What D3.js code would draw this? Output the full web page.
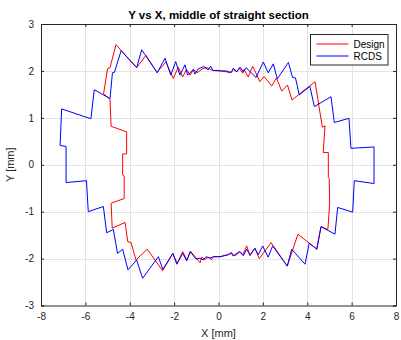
<!DOCTYPE html>
<html>
<head>
<meta charset="utf-8">
<script src="https://cdn.jsdelivr.net/npm/d3@7"></script>
<style>
  html, body { margin: 0; padding: 0; background: #fff; }
  svg { display: block; font-family: "Liberation Sans", Arial, Helvetica, sans-serif; }
</style>
</head>
<body>
<svg id="chart" width="401" height="340"></svg>
<script>
const title = "Y vs X, middle of straight section";
const xLabel = "X [mm]";
const yLabel = "Y [mm]";
const xTicks = [-8, -6, -4, -2, 0, 2, 4, 6, 8];
const yTicks = [-3, -2, -1, 0, 1, 2, 3];
const seriesNames = ["Design", "RCDS"];
const seriesColors = ["#ff0000", "#0000ff"];

const designX = [-0.25,-0.02,0.07,0.37,0.52,0.67,0.82,0.94,1.09,1.15,1.34,1.54,1.87,2.05,2.40,2.61,2.85,3.11,3.31,4.35,4.68,4.80,4.72,4.95,4.95,4.99,5.01,4.93,4.62,4.43,3.58,3.10,2.37,1.84,1.64,1.42,1.27,1.10,0.97,0.82,0.64,0.59,0.37,0.07,-0.23,-0.31,-0.47,-0.61,-0.76,-0.83,-1.25,-1.43,-1.61,-1.86,-2.06,-2.52,-3.21,-3.72,-3.94,-4.09,-4.21,-4.79,-4.84,-4.25,-4.25,-4.32,-4.32,-4.14,-4.14,-4.84,-4.89,-5.18,-5.00,-4.89,-4.62,-3.69,-3.27,-2.77,-2.37,-2.04,-1.81,-1.62,-1.44,-1.28,-1.13,-0.97,-0.70,-0.52,-0.36];
const designY = [2.01,2.00,2.00,1.98,1.96,2.03,1.98,2.06,1.95,2.03,1.87,2.10,1.77,1.88,1.68,1.85,1.57,1.70,1.38,1.77,0.80,0.83,0.26,0.26,-0.27,-0.29,-0.82,-1.38,-1.32,-1.80,-1.48,-2.16,-1.66,-2.00,-1.78,-1.94,-1.73,-1.92,-1.85,-1.92,-1.94,-1.89,-1.92,-1.96,-1.96,-2.02,-1.97,-2.02,-1.97,-2.09,-1.85,-2.03,-1.85,-2.10,-1.89,-2.26,-1.80,-2.03,-1.66,-1.64,-1.23,-1.35,-0.82,-0.72,-0.24,-0.22,0.23,0.23,0.70,0.82,1.40,1.51,2.05,2.07,2.56,2.07,2.33,1.97,2.19,1.84,2.08,1.87,2.03,1.91,2.03,1.96,2.05,2.07,2.03];

const rcdsX = [-0.25,-0.02,0.16,0.34,0.47,0.59,0.67,0.82,0.97,1.12,1.24,1.69,2.02,2.24,2.47,2.65,3.15,3.34,3.47,3.64,4.12,4.32,5.07,5.22,5.88,5.97,7.01,7.01,6.12,6.05,5.37,5.25,4.62,4.43,4.09,3.90,3.30,3.10,2.44,2.24,1.99,1.79,1.64,1.42,1.27,1.12,0.94,0.67,0.59,0.44,0.07,-0.23,-0.38,-0.56,-0.69,-0.83,-1.01,-1.28,-1.43,-1.61,-1.88,-2.06,-2.51,-2.71,-3.42,-3.69,-4.08,-4.32,-4.55,-4.74,-5.04,-5.19,-5.87,-5.95,-6.87,-6.87,-7.14,-7.07,-5.75,-5.60,-4.89,-4.78,-4.69,-4.39,-3.69,-3.46,-2.76,-2.41,-2.15,-1.93,-1.74,-1.51,-1.39,-1.14,-1.06,-0.92,-0.69,-0.61,-0.47,-0.35];
const rcdsY = [2.01,2.01,2.00,2.00,1.98,1.97,2.06,1.98,2.08,1.98,2.07,1.86,2.19,1.96,2.15,1.83,2.18,1.86,1.85,1.49,1.67,1.24,1.45,0.90,0.99,0.35,0.38,-0.40,-0.34,-1.01,-0.91,-1.48,-1.32,-1.80,-1.67,-2.12,-1.80,-2.16,-1.73,-1.97,-1.73,-1.92,-1.78,-1.92,-1.80,-1.94,-1.85,-1.94,-1.87,-1.92,-1.96,-1.96,-1.99,-1.96,-2.03,-1.99,-2.01,-1.85,-2.05,-1.89,-2.12,-1.89,-2.23,-1.96,-2.42,-2.03,-2.24,-1.80,-1.89,-1.38,-1.45,-0.89,-1.00,-0.34,-0.38,0.39,0.41,1.19,0.98,1.60,1.41,1.96,1.97,2.43,2.07,2.45,1.96,2.27,1.91,2.20,1.91,2.13,1.91,2.03,1.93,2.04,2.09,2.08,2.02,2.10];

const svg = d3.select("#chart");
const W = 401, H = 340;
const m = { left: 41, right: 5, top: 24, bottom: 34.5 };
const iw = W - m.left - m.right, ih = H - m.top - m.bottom;

const x = d3.scaleLinear().domain([-8, 8]).range([m.left, m.left + iw]);
const y = d3.scaleLinear().domain([-3, 3]).range([m.top + ih, m.top]);

// grid
const grid = svg.append("g").attr("stroke", "#e3e3e3").attr("stroke-width", 1);
xTicks.slice(1, -1).forEach(t => grid.append("line")
  .attr("x1", Math.round(x(t)) + 0.5).attr("x2", Math.round(x(t)) + 0.5)
  .attr("y1", m.top).attr("y2", m.top + ih));
yTicks.slice(1, -1).forEach(t => grid.append("line")
  .attr("y1", Math.round(y(t)) + 0.5).attr("y2", Math.round(y(t)) + 0.5)
  .attr("x1", m.left).attr("x2", m.left + iw));

// data lines
const series = [
  { name: seriesNames[0], color: seriesColors[0], pts: designX.map((v, i) => [v, designY[i]]) },
  { name: seriesNames[1], color: seriesColors[1], pts: rcdsX.map((v, i) => [v, rcdsY[i]]) }
];
const line = d3.line().x(d => x(d[0])).y(d => y(d[1])).curve(d3.curveLinearClosed);
series.forEach(s => svg.append("path").datum(s.pts)
  .attr("fill", "none").attr("stroke", s.color).attr("stroke-width", 1)
  .attr("stroke-linejoin", "miter").attr("d", line));

// axes
const axisColor = "#262626";
const fmt = d => String(d);
const xAxis = d3.axisBottom(x).tickValues(xTicks).tickSize(-3).tickPadding(7).tickFormat(fmt);
const yAxis = d3.axisLeft(y).tickValues(yTicks).tickSize(-3).tickPadding(7).tickFormat(fmt);
const xTop = d3.axisTop(x).tickValues(xTicks).tickSize(-3).tickFormat("");
const yRight = d3.axisRight(y).tickValues(yTicks).tickSize(-3).tickFormat("");

function style(g) {
  g.select(".domain").attr("stroke", axisColor).attr("stroke-width", 1);
  g.selectAll(".tick line").attr("stroke", axisColor);
  g.selectAll(".tick text").attr("fill", "#262626").style("font-size", "10px")
    .style("font-family", '"Liberation Sans", Arial, sans-serif');
}
svg.append("g").attr("transform", `translate(0,${m.top + ih})`).call(xAxis).call(style);
svg.append("g").attr("transform", `translate(${m.left},0)`).call(yAxis).call(style);
svg.append("g").attr("transform", `translate(0,${m.top})`).call(xTop).call(style);
svg.append("g").attr("transform", `translate(${m.left + iw},0)`).call(yRight).call(style);

// title and labels
svg.append("text").attr("x", m.left + iw / 2).attr("y", 19).attr("text-anchor", "middle")
  .style("font-size", "11.5px").style("font-weight", "bold").attr("fill", "#000").text(title);
svg.append("text").attr("x", m.left + iw / 2).attr("y", 337).attr("text-anchor", "middle")
  .style("font-size", "11px").attr("fill", "#262626").text(xLabel);
svg.append("text").attr("transform", `translate(14,${m.top + ih / 2}) rotate(-90)`)
  .attr("text-anchor", "middle").style("font-size", "11px").attr("fill", "#262626").text(yLabel);

// legend
const lg = svg.append("g").attr("transform", "translate(310.5,34.5)");
lg.append("rect").attr("width", 77.5).attr("height", 30.5).attr("fill", "#fff")
  .attr("stroke", axisColor).attr("stroke-width", 1);
series.forEach((s, i) => {
  const yy = 9.5 + i * 12;
  lg.append("line").attr("x1", 6).attr("x2", 38).attr("y1", yy).attr("y2", yy)
    .attr("stroke", s.color).attr("stroke-width", 1);
  lg.append("text").attr("x", 43).attr("y", yy + 3.5).style("font-size", "10px")
    .attr("fill", "#000").text(s.name);
});
</script>
</body>
</html>
